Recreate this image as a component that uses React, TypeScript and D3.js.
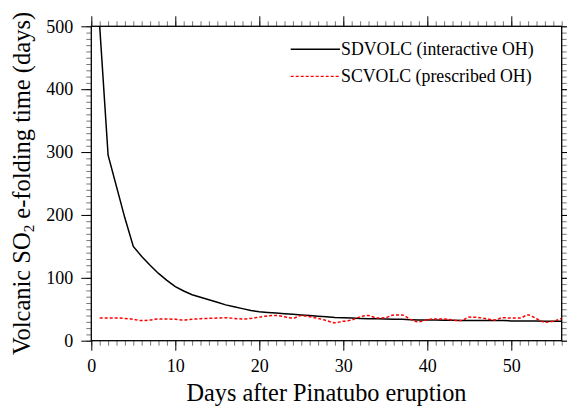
import { useEffect, useRef } from "react";
import * as d3 from "d3";

// days after eruption
const days = d3.range(1, 57);

// SDVOLC (interactive OH) e-folding time, days
const sdvolc = [
  500, 295, 245, 195, 150, 134, 120, 107, 96, 86,
  79, 73, 69, 65, 61, 57, 54, 51, 48, 46,
  45, 44, 43, 42, 41, 40, 39, 38, 37, 36.5,
  36, 35.5, 35, 35, 34.5, 34, 34, 33.5, 33, 33,
  33, 32.5, 32.5, 32, 32, 32, 32, 32, 32, 31.5,
  31.5, 31.5, 31.5, 31, 31, 31,
];

// SCVOLC (prescribed OH) e-folding time, days
const scvolc = [
  36, 36, 36, 35.5, 34, 32, 33, 34.5, 34.5, 34,
  33, 34, 35, 35.5, 36, 36.5, 35.5, 34.5, 35.5, 37.5,
  39.5, 40, 38, 36, 40, 38, 35.5, 32, 28.5, 31,
  33, 38, 40, 36, 36.5, 41, 41, 34, 30, 33.5,
  34.5, 34.5, 33, 32, 37.5, 37, 35, 33, 36.5, 36,
  36, 41, 35, 29.5, 31, 35.5,
];

const xTicks = [0, 10, 20, 30, 40, 50];
const yTicks = [0, 100, 200, 300, 400, 500];
const legendLabels = ["SDVOLC (interactive OH)", "SCVOLC (prescribed OH)"];

const W = 567;
const H = 407;
const m = { left: 91.3, right: 561.7, top: 26.3, bottom: 340.7 };
const FONT = "Liberation Serif, DejaVu Serif, serif";

export default function App() {
  const gRef = useRef<SVGGElement>(null);

  useEffect(() => {
    if (!gRef.current) return;
    const g = d3.select(gRef.current);
    g.selectAll("*").remove();

    const x = d3.scaleLinear().domain([0, 56]).range([m.left, m.right]);
    const y = d3.scaleLinear().domain([0, 500]).range([m.bottom, m.top]);

    const xMinor = d3.range(0, 57, 1);
    const yMinor = d3.range(0, 501, 10);

    const styleAxis = (width: number, color: string) => (sel: any) => {
      sel.attr("font-family", FONT).attr("font-size", 18);
      sel.select(".domain").remove();
      sel.selectAll("line").attr("stroke", color).attr("stroke-width", width);
      sel.selectAll("text").attr("fill", "#000");
    };
    const minorStyle = styleAxis(1, "#777");
    const majorStyle = styleAxis(1, "#000");

    // minor ticks
    g.append("g").attr("transform", `translate(0,${m.bottom})`)
      .call(d3.axisBottom(x).tickValues(xMinor).tickSize(5).tickFormat(() => ""))
      .call(minorStyle);
    g.append("g").attr("transform", `translate(0,${m.top})`)
      .call(d3.axisTop(x).tickValues(xMinor).tickSize(5).tickFormat(() => ""))
      .call(minorStyle);
    g.append("g").attr("transform", `translate(${m.left},0)`)
      .call(d3.axisLeft(y).tickValues(yMinor).tickSize(5).tickFormat(() => ""))
      .call(minorStyle);
    g.append("g").attr("transform", `translate(${m.right},0)`)
      .call(d3.axisRight(y).tickValues(yMinor).tickSize(5).tickFormat(() => ""))
      .call(minorStyle);

    // major ticks
    g.append("g").attr("transform", `translate(0,${m.bottom})`)
      .call(d3.axisBottom(x).tickValues(xTicks).tickSize(10))
      .call(majorStyle)
      .selectAll("text").attr("dy", "0.71em").attr("y", 19);
    g.append("g").attr("transform", `translate(0,${m.top})`)
      .call(d3.axisTop(x).tickValues(xTicks).tickSize(10).tickFormat(() => ""))
      .call(majorStyle);
    g.append("g").attr("transform", `translate(${m.left},0)`)
      .call(d3.axisLeft(y).tickValues(yTicks).tickSize(10).tickPadding(8))
      .call(majorStyle);
    g.append("g").attr("transform", `translate(${m.right},0)`)
      .call(d3.axisRight(y).tickValues(yTicks).tickSize(10).tickFormat(() => ""))
      .call(majorStyle);

    // frame
    g.append("rect")
      .attr("x", m.left).attr("y", m.top)
      .attr("width", m.right - m.left).attr("height", m.bottom - m.top)
      .attr("fill", "none").attr("stroke", "#000").attr("stroke-width", 1.3);

    const clipId = "plotclip";
    g.append("clipPath").attr("id", clipId).append("rect")
      .attr("x", m.left).attr("y", m.top - 2)
      .attr("width", m.right - m.left).attr("height", m.bottom - m.top + 2);

    const lineBlack = d3.line<number>()
      .x((_d, i) => x(days[i]))
      .y((d) => y(d));
    const lineRed = d3.line<number>()
      .x((_d, i) => x(days[i]))
      .y((d) => y(d))
      .curve(d3.curveMonotoneX);

    g.append("path").datum(sdvolc)
      .attr("clip-path", `url(#${clipId})`)
      .attr("d", lineBlack)
      .attr("fill", "none").attr("stroke", "#000").attr("stroke-width", 1.5);
    g.append("path").datum(scvolc)
      .attr("clip-path", `url(#${clipId})`)
      .attr("d", lineRed)
      .attr("fill", "none").attr("stroke", "#ff0000")
      .attr("stroke-width", 1.5).attr("stroke-dasharray", "3,2");

    // legend
    const leg = g.append("g");
    const legY = [49.3, 76.3];
    const legStyles = [
      { stroke: "#000", dash: null },
      { stroke: "#ff0000", dash: "3,2" },
    ];
    legendLabels.forEach((lab, i) => {
      leg.append("line")
        .attr("x1", 290.7).attr("x2", 340).attr("y1", legY[i]).attr("y2", legY[i])
        .attr("stroke", legStyles[i].stroke)
        .attr("stroke-width", i === 0 ? 1.5 : 1.2)
        .attr("stroke-dasharray", legStyles[i].dash);
      leg.append("text")
        .attr("x", 341).attr("y", legY[i] + 5.5)
        .attr("font-family", FONT).attr("font-size", 17.8)
        .text(lab);
    });
  }, []);

  return (
    <svg
      width={W}
      height={H}
      style={{ position: "absolute", left: 0, top: 0, background: "#fff" }}
    >
      <g ref={gRef} />
      <text
        x={(m.left + m.right) / 2}
        y={401}
        textAnchor="middle"
        fontFamily={FONT}
        fontSize={24.3}
      >
        Days after Pinatubo eruption
      </text>
      <text
        transform={`translate(29.5,${(m.top + m.bottom) / 2}) rotate(-90)`}
        textAnchor="middle"
        fontFamily={FONT}
        fontSize={24.5}
      >
        Volcanic SO
        <tspan fontSize={15} dy={4}>2</tspan>
        <tspan dy={-4}> e-folding time (days)</tspan>
      </text>
    </svg>
  );
}
